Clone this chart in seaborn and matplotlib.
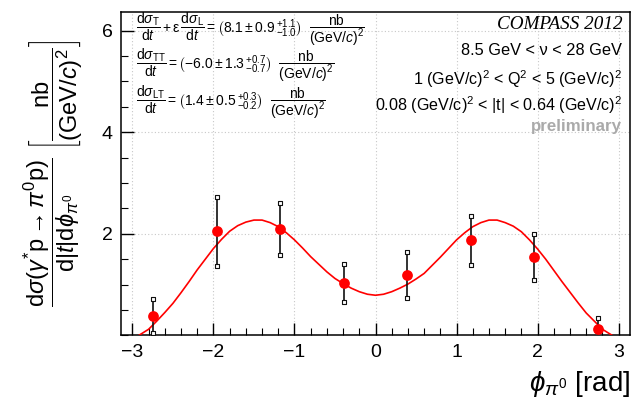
import numpy as np
import pandas as pd
import matplotlib
matplotlib.use('Agg')
import matplotlib.pyplot as plt
import seaborn as sns
from matplotlib.ticker import MultipleLocator

# --- data ---
phi_bins = [-2.75, -1.96, -1.18, -0.39, 0.39, 1.18, 1.96, 2.75]
xsec = [0.38, 2.05, 2.10, 1.03, 1.19, 1.87, 1.54, 0.13]
xsec_err = [0.33, 0.68, 0.51, 0.37, 0.45, 0.49, 0.45, 0.21]

# fit curve
fit_phi = [-2.92, -2.80, -2.70, -2.60, -2.50, -2.40, -2.30, -2.20, -2.10, -2.00,
           -1.90, -1.80, -1.70, -1.60, -1.50, -1.40, -1.30, -1.20, -1.10, -1.00,
           -0.90, -0.80, -0.70, -0.60, -0.50, -0.40, -0.30, -0.20, -0.10, 0.00,
           0.10, 0.20, 0.30, 0.40, 0.50, 0.60, 0.70, 0.80, 0.90, 1.00,
           1.10, 1.20, 1.30, 1.40, 1.50, 1.60, 1.70, 1.80, 1.90, 2.00,
           2.10, 2.20, 2.30, 2.40, 2.50, 2.60, 2.70, 2.80, 2.92]
fit_val = [0.00, 0.12, 0.28, 0.45, 0.63, 0.84, 1.06, 1.29, 1.50, 1.71,
           1.89, 2.05, 2.16, 2.23, 2.27, 2.27, 2.22, 2.14, 2.02, 1.88,
           1.72, 1.55, 1.40, 1.25, 1.12, 1.02, 0.93, 0.86, 0.81, 0.79,
           0.81, 0.86, 0.93, 1.01, 1.11, 1.22, 1.38, 1.54, 1.71, 1.88,
           2.02, 2.14, 2.22, 2.27, 2.27, 2.22, 2.15, 2.04, 1.88, 1.70,
           1.50, 1.28, 1.06, 0.85, 0.64, 0.44, 0.28, 0.12, 0.00]

points = pd.DataFrame({'phi': phi_bins, 'xsec': xsec, 'err': xsec_err})
curve = pd.DataFrame({'phi': fit_phi, 'val': fit_val})

# --- style ---
sns.set_style('ticks')
plt.rcParams['font.family'] = ['Liberation Sans', 'DejaVu Sans']
plt.rcParams['mathtext.fontset'] = 'custom'
plt.rcParams['mathtext.rm'] = 'Liberation Sans'
plt.rcParams['mathtext.it'] = 'Liberation Sans:italic'
plt.rcParams['mathtext.bf'] = 'Liberation Sans:bold'
plt.rcParams['mathtext.sf'] = 'Liberation Sans'
plt.rcParams['text.color'] = 'black'
plt.rcParams['axes.labelcolor'] = 'black'
plt.rcParams['xtick.color'] = 'black'
plt.rcParams['ytick.color'] = 'black'
plt.rcParams['axes.edgecolor'] = 'black'

fig = plt.figure(figsize=(6.37, 4.08), dpi=100)
ax = fig.add_axes([0.19, 0.178, 0.799, 0.793])

ax.grid(True, which='major', color='#c8c8c8', linestyle=(0, (1, 2)), linewidth=0.8)

sns.lineplot(data=curve, x='phi', y='val', ax=ax, color='red', linewidth=1.2, zorder=3)

ax.errorbar(points['phi'], points['xsec'], yerr=points['err'], fmt='none',
            ecolor='#111111', elinewidth=1.2, capsize=0, zorder=4)
ax.scatter(points['phi'], points['xsec'] + points['err'], marker='s', s=9,
           facecolor='white', edgecolor='#111111', linewidth=0.8, zorder=5)
ax.scatter(points['phi'], points['xsec'] - points['err'], marker='s', s=9,
           facecolor='white', edgecolor='#111111', linewidth=0.8, zorder=5)
sns.scatterplot(data=points, x='phi', y='xsec', ax=ax, color='red', s=60,
                edgecolor='red', linewidth=0, zorder=6)

ax.set_xlim(-3.14, 3.14)
ax.set_ylim(0, 6.37)
ax.set_xticks([-3, -2, -1, 0, 1, 2, 3])
ax.set_xticklabels(['\u22123', '\u22122', '\u22121', '0', '1', '2', '3'])
ax.set_yticks([2, 4, 6])
ax.xaxis.set_minor_locator(MultipleLocator(0.2))
ax.yaxis.set_minor_locator(MultipleLocator(0.5))
ax.tick_params(which='major', direction='in', length=9, width=1, labelsize=14, pad=6)
ax.tick_params(which='minor', direction='in', length=5, width=0.8)
for s in ax.spines.values():
    s.set_linewidth(1.1)

ax.set_xlabel(r'$\phi_{\pi^{0}}$ [rad]', fontsize=20, loc='right', labelpad=6)
ax.set_ylabel(r'$\dfrac{\mathrm{d}\sigma(\gamma^{*}\mathrm{p}{\rightarrow}\pi^{0}\mathrm{p})}'
              r'{\mathrm{d}|t|\mathrm{d}\phi_{\pi^{0}}}\ '
              r'\left[\dfrac{\mathrm{nb}}{(\mathrm{GeV}/c)^{2}}\right]$',
              fontsize=17, labelpad=12)

# --- fit results ---
fs = 10
unit = r'\ \ \dfrac{\mathrm{nb}}{(\mathrm{GeV}/c)^{2}}$'
ax.text(0.03, 0.947,
        r'$\dfrac{\mathrm{d}\sigma_{\mathrm{T}}}{\mathrm{d}t} + \mathrm{\varepsilon}\,'
        r'\dfrac{\mathrm{d}\sigma_{\mathrm{L}}}{\mathrm{d}t} = '
        r'\left(8.1 \pm 0.9\,{}^{+1.1}_{-1.0}\right)' + unit,
        transform=ax.transAxes, fontsize=fs, va='center', ha='left')
ax.text(0.03, 0.836,
        r'$\dfrac{\mathrm{d}\sigma_{\mathrm{TT}}}{\mathrm{d}t} = '
        r'\left(\mathrm{-}6.0 \pm 1.3\,{}^{+0.7}_{-0.7}\right)' + unit,
        transform=ax.transAxes, fontsize=fs, va='center', ha='left')
ax.text(0.03, 0.719,
        r'$\dfrac{\mathrm{d}\sigma_{\mathrm{LT}}}{\mathrm{d}t} = '
        r'\left(1.4 \pm 0.5\,{}^{+0.3}_{-0.2}\right)' + unit,
        transform=ax.transAxes, fontsize=fs, va='center', ha='left')

# --- kinematic range ---
ax.text(0.985, 0.960, 'COMPASS 2012', transform=ax.transAxes, fontsize=13.8,
        family='Liberation Serif', style='italic', ha='right', va='center')
ax.text(0.985, 0.879, '8.5 GeV < \u03bd < 28 GeV', transform=ax.transAxes,
        fontsize=11.8, ha='right', va='center')
ax.text(0.985, 0.793, r'1 (GeV/c)$^{2}$ < Q$^{2}$ < 5 (GeV/c)$^{2}$',
        transform=ax.transAxes, fontsize=11.6, ha='right', va='center')
ax.text(0.985, 0.713, r'0.08 (GeV/c)$^{2}$ < |t| < 0.64 (GeV/c)$^{2}$',
        transform=ax.transAxes, fontsize=11.6, ha='right', va='center')
ax.text(0.985, 0.647, 'preliminary', transform=ax.transAxes, fontsize=12.2,
        weight='bold', color='#aaaaaa', ha='right', va='center')

fig.savefig('out.png', dpi=100)
